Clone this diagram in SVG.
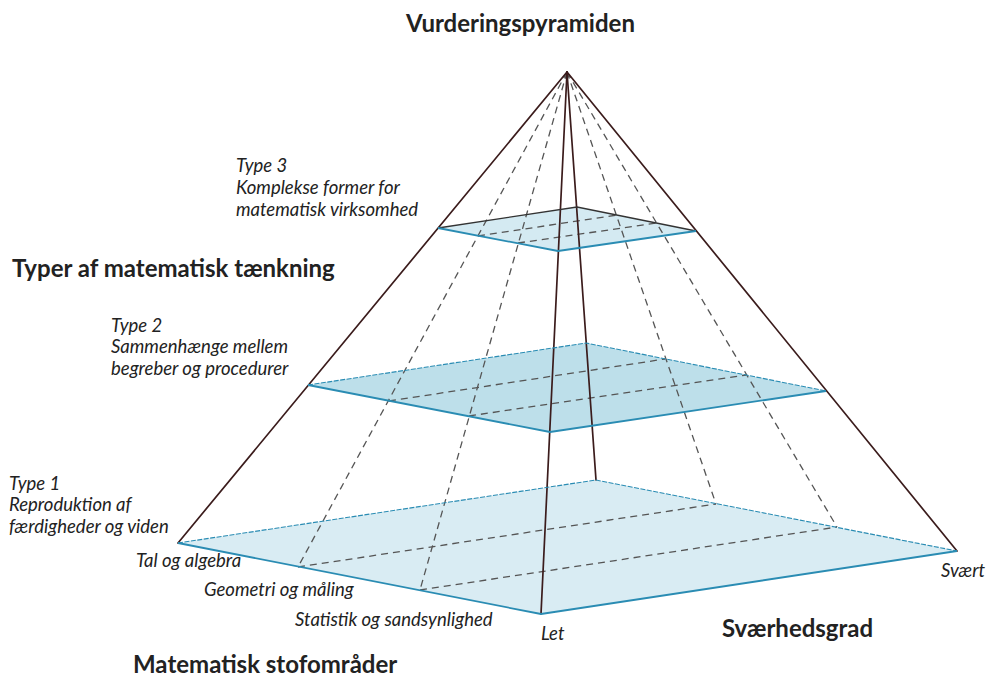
<svg xmlns="http://www.w3.org/2000/svg" width="987" height="678" viewBox="0 0 987 678">
<style>
.edge{stroke:#3b1c1c;stroke-width:1.7;fill:none;stroke-linecap:round}
.dash{stroke:#555;stroke-width:1.3;fill:none;stroke-dasharray:7 5}
.pl{stroke:none}
.front{stroke:#2a8cb3;stroke-width:1.8;fill:none;stroke-linejoin:round}
.back{stroke:#2a8cb3;stroke-width:1.1;fill:none;stroke-dasharray:5 1.5}
.back3{stroke:#333;stroke-width:1.3;fill:none}
.h{font-family:Lato,"Open Sans",sans-serif;font-weight:bold;font-size:24px;fill:#222}
.t{font-family:Lato,"Open Sans",sans-serif;font-style:italic;font-size:18.5px;fill:#222}
</style>
<rect width="987" height="678" fill="#fff"/>
<g id="planes">
<g id="plane-base">
<polygon class="pl" points="178,543 541,614 957,551 596,480" fill="#d9ecf3"/>
</g>
<g id="plane-type2">
<polygon class="pl" points="308,385 550,432 826,391 586,343" fill="#bddfea"/>
</g>
<g id="plane-type3">
<polygon class="pl" points="438,228 558,251 696,231 577,207" fill="#d4eaf2"/>
</g>
</g>
<g id="connectors">
<line class="dash" x1="567" y1="72" x2="298" y2="567"/>
<line class="dash" x1="567" y1="72" x2="420" y2="590"/>
<line class="dash" x1="567" y1="72" x2="716" y2="504"/>
<line class="dash" x1="567" y1="72" x2="837" y2="527"/>
<line class="dash" x1="298" y1="567" x2="716" y2="504"/>
<line class="dash" x1="420" y1="590" x2="837" y2="527"/>
<line class="dash" x1="389" y1="401" x2="665" y2="359"/>
<line class="dash" x1="469" y1="416" x2="746" y2="375"/>
<line class="dash" x1="478" y1="236" x2="617" y2="215"/>
<line class="dash" x1="518" y1="243" x2="657" y2="223"/>
<line class="edge" x1="567" y1="72" x2="178" y2="543"/>
<line class="edge" x1="567" y1="72" x2="957" y2="551"/>
<line class="edge" x1="567" y1="72" x2="541" y2="614"/>
<line class="edge" x1="567" y1="72" x2="596" y2="480"/>
</g>
<g id="plane-edges">
<polyline class="back" points="178,543 596,480 957,551"/>
<polyline class="front" points="178,543 541,614 957,551"/>
<polyline class="back" points="308,385 586,343 826,391"/>
<polyline class="front" points="308,385 550,432 826,391"/>
<polyline class="back3" points="438,228 577,207 696,231"/>
<polyline class="front" points="438,228 558,251 696,231"/>
</g>
<g id="labels">
<text class="h" x="406" y="32">Vurderingspyramiden</text>
<text class="h" x="12" y="277">Typer af matematisk tænkning</text>
<text class="h" x="133" y="673">Matematisk stofområder</text>
<text class="h" x="722" y="637">Sværhedsgrad</text>
<text class="t" x="236" y="172">Type 3</text>
<text class="t" x="236" y="194">Komplekse former for</text>
<text class="t" x="236" y="216">matematisk virksomhed</text>
<text class="t" x="111" y="332">Type 2</text>
<text class="t" x="111" y="353">Sammenhænge mellem</text>
<text class="t" x="111" y="375">begreber og procedurer</text>
<text class="t" x="9" y="490">Type 1</text>
<text class="t" x="9" y="511">Reproduktion af</text>
<text class="t" x="9" y="533">færdigheder og viden</text>
<text class="t" x="136" y="567">Tal og algebra</text>
<text class="t" x="204" y="596">Geometri og måling</text>
<text class="t" x="295" y="626">Statistik og sandsynlighed</text>
<text class="t" x="541" y="640">Let</text>
<text class="t" x="941" y="577">Svært</text>
</g>
</svg>
